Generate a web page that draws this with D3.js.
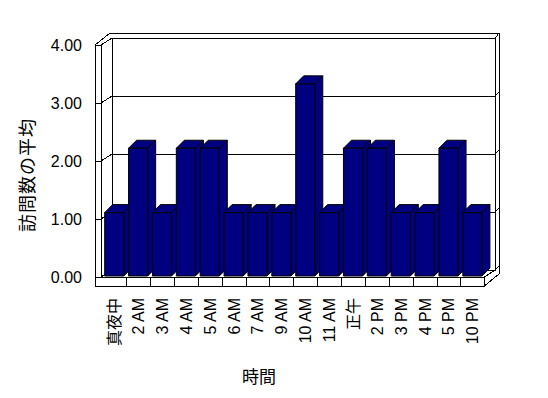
<!DOCTYPE html>
<html>
<head>
<meta charset="utf-8">
<script src="https://cdn.jsdelivr.net/npm/d3@7/dist/d3.min.js"></script>
<style>
  html, body { margin: 0; padding: 0; background: #fff; }
  svg { display: block; }
  .lbl { font-family: "Liberation Sans", Arial, "Noto Sans CJK JP", sans-serif; font-size: 16px; fill: #000; }
  .jp { font-family: "Noto Sans CJK JP", sans-serif; }
</style>
</head>
<body>
<div id="chart"></div>
<script>
// 時間ごとの訪問数の平均
const categories = ['真夜中', '2 AM', '3 AM', '4 AM', '5 AM', '6 AM', '7 AM', '9 AM',
  '10 AM', '11 AM', '正午', '2 PM', '3 PM', '4 PM', '5 PM', '10 PM'];
const values = [1.11, 2.22, 1.11, 2.22, 2.22, 1.11, 1.11, 1.11,
  3.33, 1.11, 2.22, 2.22, 1.11, 1.11, 2.22, 1.11];
const yTicks = [0, 1, 2, 3, 4];
const yTickLabels = ['0.00', '1.00', '2.00', '3.00', '4.00'];
const xTitle = '時間';
const yTitle = '訪問数の平均';

const W = 548, H = 398;
const BAR = '#000080';

// front plane of the plot and offset to the back wall
const x0 = 102.3, x1 = 484.3;
const back = [11, -7];
const barDepth = [8, -8];

const svg = d3.select('#chart').append('svg')
  .attr('width', W).attr('height', H)
  .attr('shape-rendering', 'crispEdges');

const x = d3.scaleBand().domain(categories).range([x0, x1])
  .paddingInner(0.2).paddingOuter(0.1);
const y = d3.scaleLinear().domain([0, 4]).range([277, 45]);

const line = (pts) => svg.append('path')
  .attr('d', d3.line()(pts))
  .attr('fill', 'none').attr('stroke', '#000').attr('stroke-width', 1);

// walls
const bx0 = 112;
const bx1 = x1 + back[0];          // 495
const wallTop = y(4) + back[1];    // 38
const wallBottom = y(0) + back[1]; // 270

svg.append('rect').attr('x', bx0).attr('y', wallTop).attr('width', bx1 - bx0)
  .attr('height', wallBottom - wallTop).attr('fill', '#fff');

// back wall outline with thickness
line([[110, 33], [499, 33], [499, 274]]);
line([[bx0, wallTop], [bx1, wallTop], [bx1, wallBottom]]);
line([[bx1, wallTop], [499, 33]]);

// left wall slab
line([[95, 45], [95, 286]]);
line([[101, 45], [101, 277]]);
line([[95, 45], [101, 45]]);
line([[95, 45], [110, 33]]);
line([[101, 45], [bx0, wallTop]]);
line([[bx0, wallTop], [bx0, wallBottom]]);

// gridlines (front tick on slab, diagonal on wall, line on back wall)
yTicks.slice(0, -1).forEach(v => {
  const yy = y(v);
  line([[95, yy], [101, yy], [bx0, yy + back[1]], [bx1, yy + back[1]], [499, yy + back[1] - 4]]);
});

// floor slab
svg.append('rect').attr('x', 95).attr('y', 277).attr('width', x1 - 95).attr('height', 9)
  .attr('fill', '#fff').attr('stroke', '#000');
line([[x1, 277], [bx1, 277 + back[1]]]);
line([[x1, 286], [499, 274]]);
categories.slice(1).forEach(c => {
  const xx = Math.round(x(c) - x.step() * x.paddingInner() / 2);
  line([[xx, 277], [xx, 286]]);
});

// 3D columns
const bars = svg.append('g').selectAll('g').data(values).join('g');
bars.each(function (v, i) {
  const g = d3.select(this);
  const bx = x(categories[i]), bw = x.bandwidth();
  const yt = y(v), yb = y(0) - 1;
  const [dx, dy] = barDepth;
  const poly = (pts) => g.append('polygon')
    .attr('points', pts.map(p => p.join(',')).join(' '))
    .attr('fill', BAR).attr('stroke', '#000').attr('stroke-width', 1)
    .attr('shape-rendering', 'auto');
  // side
  poly([[bx + bw, yt], [bx + bw + dx, yt + dy], [bx + bw + dx, yb + dy], [bx + bw, yb]]);
  // top
  poly([[bx, yt], [bx + dx, yt + dy], [bx + bw + dx, yt + dy], [bx + bw, yt]]);
  // front
  poly([[bx, yt], [bx + bw, yt], [bx + bw, yb], [bx, yb]]);
});

// y tick labels
svg.append('g').selectAll('text').data(yTicks).join('text')
  .attr('class', 'lbl')
  .attr('x', 82).attr('y', d => y(d))
  .attr('dy', '0.36em')
  .attr('text-anchor', 'end')
  .text((d, i) => yTickLabels[i]);

// x tick labels (rotated)
svg.append('g').selectAll('text').data(categories).join('text')
  .attr('class', d => /[^\x00-\x7f]/.test(d) ? 'lbl jp' : 'lbl')
  .attr('text-anchor', 'end')
  .attr('transform', d => `translate(${x(d) + x.bandwidth() / 2 + 6},298) rotate(-90)`)
  .text(d => d);

// axis titles
svg.append('text').attr('class', 'lbl jp')
  .attr('x', 259).attr('y', 383)
  .attr('text-anchor', 'middle').style('font-size', '17px')
  .text(xTitle);

svg.append('text').attr('class', 'lbl jp')
  .attr('transform', 'translate(34,175) rotate(-90)')
  .attr('text-anchor', 'middle').style('font-size', '18px')
  .style('letter-spacing', '1px')
  .text(yTitle);
</script>
</body>
</html>
